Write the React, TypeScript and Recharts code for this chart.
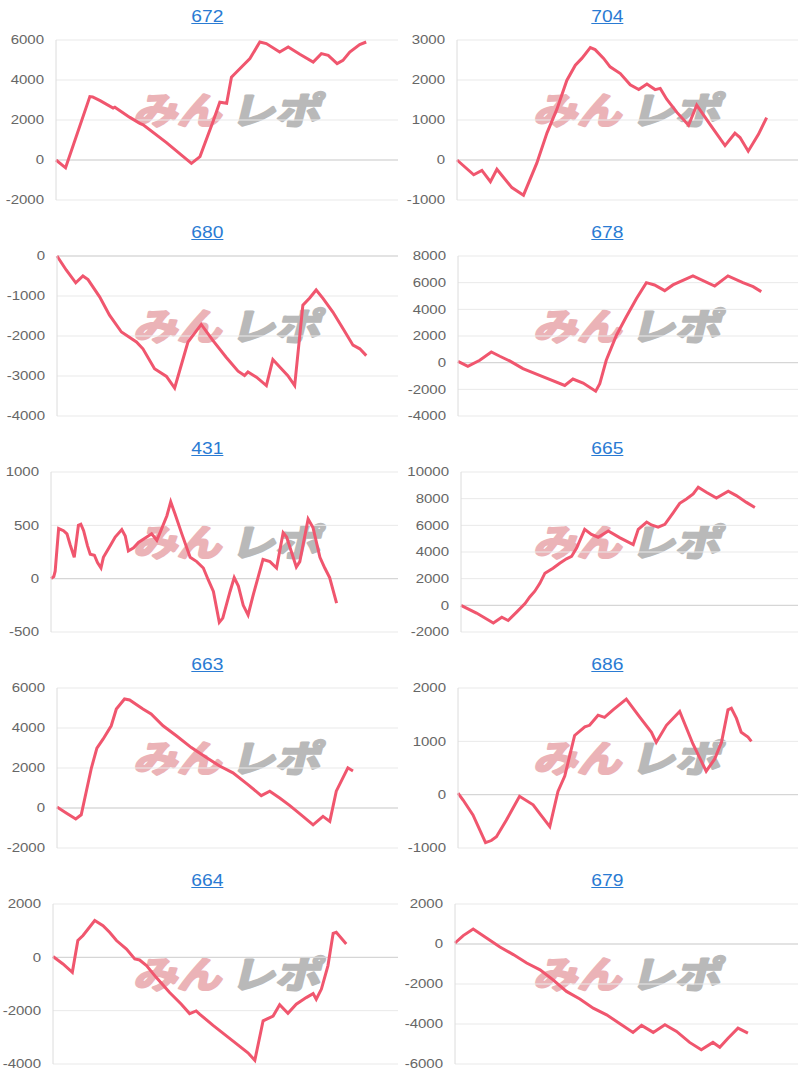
import React from 'react';
import { LineChart, Line, XAxis, YAxis, CartesianGrid, ReferenceLine } from 'recharts';

// machine numbers (panel titles)
const titles = ['672', '704', '680', '678', '431', '665', '663', '686', '664', '679'];

// x = progress through the day (% of the axis), y = coin difference
const x672 = [0, 2.8, 9.9, 10.7, 12.9, 16.7, 17.2, 21.6, 24.5, 25.5, 32.3, 39.6, 42.1, 46.0, 47.9, 49.9, 51.3, 52.8, 56.7, 59.6, 61.5, 65.4, 67.9, 71.3, 75.2, 77.6, 79.6, 82.2, 83.9, 85.9, 88.8, 90.7];
const y672 = [0, -390, 3170, 3150, 2970, 2600, 2640, 2130, 1830, 1760, 870, -170, 170, 1960, 2890, 2840, 4140, 4400, 5070, 5900, 5820, 5400, 5650, 5290, 4900, 5320, 5230, 4820, 4980, 5400, 5770, 5900];

const x704 = [0, 4.9, 7.3, 9.8, 11.7, 16.1, 19.5, 23.4, 26.4, 29.3, 32.2, 34.7, 36.6, 39.1, 40.5, 43.0, 44.9, 47.9, 50.8, 53.3, 55.7, 58.1, 59.6, 61.5, 64.5, 67.9, 70.3, 74.2, 78.6, 81.5, 83.0, 85.4, 88.4, 90.8];
const y704 = [0, -370, -260, -540, -230, -690, -880, -80, 680, 1270, 1990, 2370, 2540, 2810, 2760, 2540, 2330, 2160, 1880, 1760, 1900, 1760, 1790, 1520, 1190, 870, 1370, 890, 360, 670, 560, 220, 640, 1060];

const x680 = [0, 2.7, 5.5, 7.6, 9.1, 12.5, 15.4, 18.9, 23.3, 25.2, 28.6, 32.1, 34.5, 38.4, 42.3, 45.7, 49.6, 53.1, 55.0, 56.0, 58.5, 61.4, 63.3, 65.8, 67.7, 69.7, 72.1, 74.1, 76.0, 78.0, 80.9, 83.9, 86.8, 88.8, 90.7];
const y680 = [0, -350, -670, -500, -590, -1020, -1480, -1900, -2150, -2320, -2820, -3010, -3300, -2150, -1710, -2110, -2530, -2880, -2990, -2900, -3030, -3240, -2590, -2820, -2990, -3240, -1230, -1050, -850, -1060, -1400, -1820, -2230, -2320, -2490];

const x678 = [0, 2.9, 6.4, 9.8, 12.3, 15.2, 19.1, 24.0, 31.4, 33.8, 36.8, 40.5, 41.7, 43.6, 46.6, 49.5, 52.5, 55.4, 57.8, 60.8, 63.2, 69.1, 75.5, 79.4, 83.8, 86.8, 89.2];
const y678 = [100, -280, 180, 800, 480, 130, -450, -950, -1710, -1230, -1530, -2140, -1580, 180, 2060, 3440, 4820, 6000, 5830, 5400, 5830, 6510, 5750, 6510, 6000, 5700, 5330];

const x431 = [0, 0.8, 1.2, 2.2, 3.6, 4.6, 5.5, 6.7, 7.9, 8.6, 9.4, 10.5, 11.3, 12.5, 13.4, 14.4, 15.1, 17.1, 18.5, 20.4, 21.4, 22.3, 23.8, 25.2, 27.6, 29.0, 30.5, 31.4, 33.4, 34.5, 35.7, 37.7, 40.1, 42.0, 43.9, 45.3, 46.8, 48.5, 49.5, 51.6, 52.8, 54.0, 55.4, 56.8, 58.3, 61.1, 63.1, 65.0, 66.9, 67.9, 70.7, 71.7, 74.1, 75.5, 77.5, 78.9, 80.3, 82.3];
const y431 = [0, 20, 70, 470, 450, 420, 320, 200, 500, 510, 450, 310, 230, 220, 150, 100, 200, 310, 390, 460, 400, 260, 290, 340, 390, 420, 360, 430, 590, 720, 610, 420, 200, 160, 100, -10, -120, -410, -370, -120, 10, -70, -250, -340, -150, 180, 160, 100, 430, 390, 110, 160, 560, 480, 200, 100, 10, -230];

const x665 = [0, 4.6, 9.6, 12.1, 14.0, 16.5, 19.0, 20.4, 21.9, 23.4, 24.9, 27.3, 29.3, 31.3, 32.8, 34.3, 36.7, 38.7, 40.7, 43.7, 47.2, 51.1, 52.6, 55.1, 56.5, 58.5, 60.5, 63.0, 64.9, 66.9, 68.9, 70.4, 72.8, 75.8, 79.3, 81.7, 84.7, 87.2];
const y665 = [0, -580, -1320, -890, -1140, -510, 130, 630, 1060, 1650, 2410, 2780, 3160, 3490, 3670, 4300, 5700, 5320, 5110, 5570, 5060, 4560, 5700, 6250, 6030, 5870, 6080, 6960, 7650, 7970, 8350, 8860, 8480, 8050, 8560, 8230, 7720, 7340];

const x663 = [0, 2.7, 5.5, 7.1, 8.6, 10.1, 11.7, 13.5, 15.9, 17.4, 19.8, 21.3, 25.2, 27.6, 31.1, 35.0, 39.4, 43.8, 47.7, 51.6, 56.0, 59.9, 62.4, 65.3, 68.2, 71.6, 75.1, 78.0, 80.0, 81.9, 85.3, 86.8];
const y663 = [50, -250, -550, -340, 840, 2010, 2990, 3440, 4110, 4950, 5450, 5400, 4950, 4700, 4110, 3610, 3020, 2520, 2100, 1760, 1170, 620, 840, 500, 130, -340, -840, -420, -670, 840, 2010, 1850];

const x686 = [0, 1.5, 4.4, 8.1, 9.8, 11.3, 14.2, 18.1, 22.1, 24.0, 27.0, 29.4, 31.4, 34.3, 37.3, 38.7, 41.2, 43.1, 45.6, 49.5, 53.4, 56.9, 58.3, 61.3, 65.2, 69.1, 73.0, 75.5, 77.5, 79.4, 80.4, 81.9, 83.3, 85.3, 86.3];
const y686 = [30, -100, -380, -900, -860, -790, -480, -30, -190, -350, -600, 60, 350, 1110, 1270, 1300, 1490, 1450, 1590, 1790, 1460, 1170, 980, 1300, 1560, 950, 440, 670, 980, 1590, 1620, 1430, 1170, 1080, 1000];

const x664 = [0, 2.9, 5.6, 7.2, 8.7, 12.1, 14.5, 16.4, 18.4, 21.3, 23.7, 25.1, 27.1, 29.9, 33.8, 37.2, 39.6, 41.5, 42.5, 46.4, 52.2, 56.5, 58.5, 60.9, 63.8, 65.7, 68.1, 70.5, 73.4, 75.4, 76.3, 77.8, 79.7, 81.2, 82.1, 85.0];
const y664 = [30, -250, -560, 630, 820, 1380, 1190, 940, 630, 310, -60, -100, -310, -750, -1320, -1760, -2110, -2010, -2130, -2550, -3140, -3580, -3860, -2380, -2200, -1780, -2100, -1760, -1510, -1360, -1570, -1190, -310, 900, 940, 500];

const x679 = [0, 2.4, 5.3, 9.2, 13.1, 17.0, 20.9, 24.8, 28.6, 32.5, 36.4, 40.3, 44.2, 48.1, 51.9, 54.4, 57.8, 61.2, 64.6, 68.4, 71.8, 75.2, 77.2, 79.6, 82.5, 85.4];
const y679 = [50, 420, 750, 300, -150, -530, -950, -1290, -1790, -2370, -2750, -3210, -3540, -3990, -4420, -4070, -4420, -4040, -4370, -4920, -5290, -4920, -5160, -4710, -4210, -4460];

// y axis tick labels per panel
const t672 = [-2000, 0, 2000, 4000, 6000];
const t704 = [-1000, 0, 1000, 2000, 3000];
const t680 = [-4000, -3000, -2000, -1000, 0];
const t678 = [-4000, -2000, 0, 2000, 4000, 6000, 8000];
const t431 = [-500, 0, 500, 1000];
const t665 = [-2000, 0, 2000, 4000, 6000, 8000, 10000];
const t663 = [-2000, 0, 2000, 4000, 6000];
const t686 = [-1000, 0, 1000, 2000];
const t664 = [-4000, -2000, 0, 2000];
const t679 = [-6000, -4000, -2000, 0, 2000];

const xs = [x672, x704, x680, x678, x431, x665, x663, x686, x664, x679];
const ys = [y672, y704, y680, y678, y431, y665, y663, y686, y664, y679];
const ticks = [t672, t704, t680, t678, t431, t665, t663, t686, t664, t679];

// width of the y axis area in each panel
const axisW = [56, 57, 57, 58, 51, 61, 57, 58, 53, 55];

const LINE = '#f0566e';
const FONT = "'Liberation Sans', Arial, sans-serif";

function Tick({ x, y, payload }: any) {
  return (
    <text
      x={0}
      y={0}
      transform={`translate(${x},${y}) scale(1.25,1)`}
      textAnchor="end"
      dy="0.36em"
      fontSize={12}
      fill="#666"
      fontFamily={FONT}
    >
      {payload.value}
    </text>
  );
}

// "みんレポ" logo stamped behind each chart
function Watermark() {
  const cjk = "'Noto Sans CJK JP', sans-serif";
  return (
    <svg width={210} height={44} style={{ position: 'absolute', left: 124, top: 88, overflow: 'visible' }}>
      <g transform="skewX(-14)">
        <text x={18} y={36} fontSize={37} fontWeight={700} fontFamily={cjk} fill="#ebb3b7"
          stroke="#ebb3b7" strokeWidth={2.5} strokeLinejoin="round"
          textLength={88} lengthAdjust="spacingAndGlyphs">みん</text>
        <text x={115} y={36} fontSize={37} fontWeight={700} fontFamily={cjk} fill="#b9b9b9"
          stroke="#b9b9b9" strokeWidth={2.5} strokeLinejoin="round"
          textLength={90} lengthAdjust="spacingAndGlyphs">レポ</text>
      </g>
    </svg>
  );
}

function Panel({ i }: { i: number }) {
  const data = xs[i].map((x, k) => ({ x, y: ys[i][k] }));
  const t = ticks[i];
  return (
    <div style={{ position: 'relative', width: 400, height: 216 }}>
      <Watermark />
      <div style={{ position: 'absolute', top: 7, left: 14, width: 386, textAlign: 'center', lineHeight: '20px' }}>
        <a href="#" style={{ display: 'inline-block', color: '#2a7bd3', fontSize: 16, fontFamily: FONT, textDecoration: 'underline', transform: 'scaleX(1.2)' }}>
          {titles[i]}
        </a>
      </div>
      <div style={{ position: 'absolute', top: 0, left: 0 }}>
        <LineChart width={400} height={216} data={data} margin={{ top: 40, right: 2, bottom: 16, left: 0 }}>
          <CartesianGrid vertical={false} stroke="#e9e9e9" />
          <XAxis dataKey="x" type="number" domain={[0, 100]} hide />
          <YAxis
            width={axisW[i]}
            domain={[t[0], t[t.length - 1]]}
            ticks={t}
            interval={0}
            axisLine={{ stroke: '#dcdcdc' }}
            tickLine={false}
            tickMargin={6}
            tick={<Tick />}
          />
          <ReferenceLine y={0} stroke="#d2d2d2" />
          <Line type="linear" dataKey="y" stroke={LINE} strokeWidth={3} dot={false} isAnimationActive={false} />
        </LineChart>
      </div>
    </div>
  );
}

export default function App() {
  return (
    <div style={{ position: 'absolute', top: 0, left: 0, width: 800, height: 1080, background: '#fff', display: 'grid', gridTemplateColumns: '400px 400px' }}>
      {titles.map((_, i) => (
        <Panel key={i} i={i} />
      ))}
    </div>
  );
}
